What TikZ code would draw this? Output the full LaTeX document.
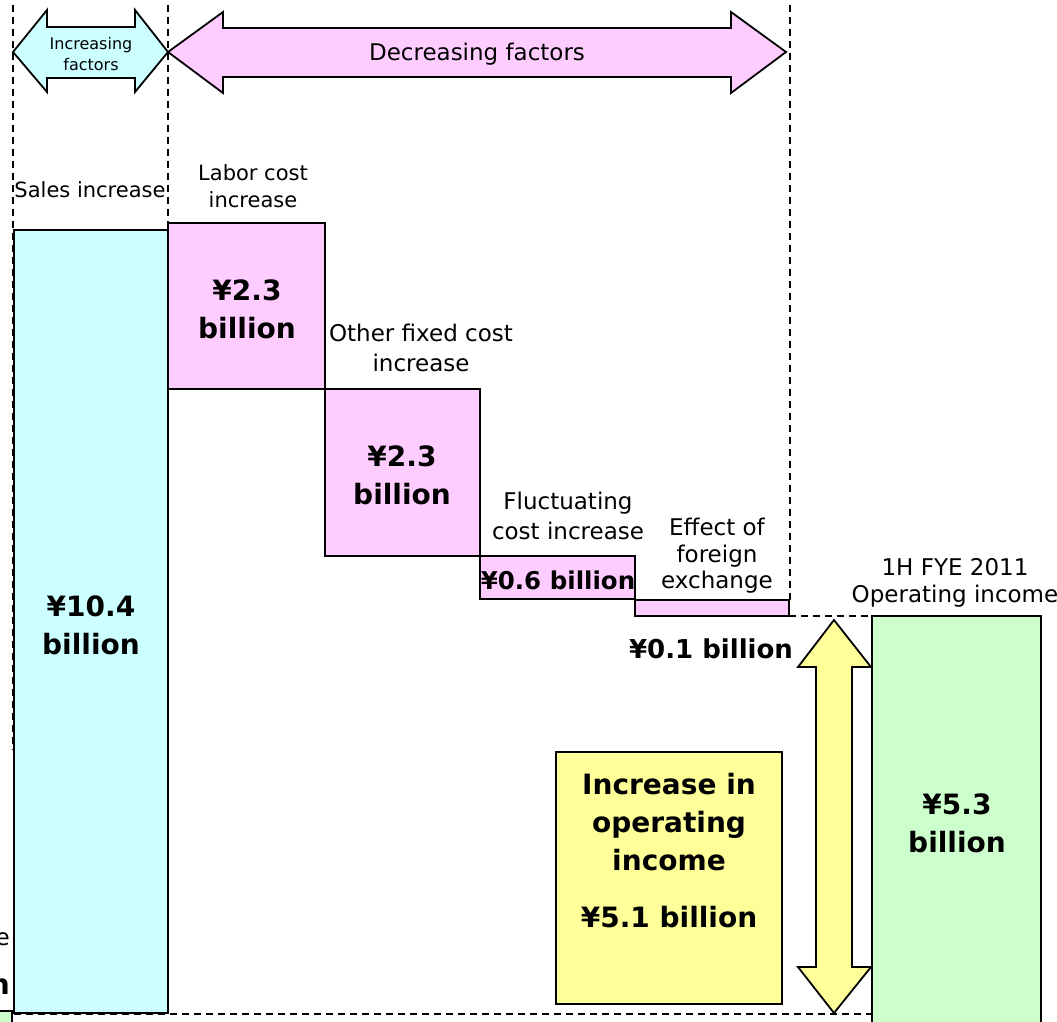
\documentclass[tikz,border=0pt]{standalone}
\usepackage{fontspec}
\setmainfont{DejaVu Sans}
\definecolor{cyanf}{HTML}{CCFFFF}
\definecolor{pinkf}{HTML}{FFCCFF}
\definecolor{greenf}{HTML}{CCFFCC}
\definecolor{yellowf}{HTML}{FFFF99}
\begin{document}
\begin{tikzpicture}[x=1pt,y=-1pt,
  bar/.style={draw=black,line width=2pt},
  guide/.style={draw=black,line width=1.8pt,dash pattern=on 7pt off 5pt},
  lbl/.style={align=center,inner sep=0pt,font=\fontsize{23}{30}\selectfont},
  lbls/.style={align=center,inner sep=0pt,font=\fontsize{21}{27}\selectfont},
  big/.style={align=center,inner sep=0pt,font=\bfseries\fontsize{28}{38}\selectfont},
  shp/.style={draw=black,line width=1.8pt,line join=miter}]
\useasboundingbox (0,0) rectangle (1057,1021);
\clip (0,0) rectangle (1057,1021);
\fill[white] (0,0) rectangle (1057,1021);

% cut-off bar at left
\draw[bar,fill=greenf] (-60,1011) rectangle (12,1040);
\node[lbl,anchor=east] (prevlbl) at (10,937) {income};
\node[big,anchor=east] (prevval) at (10,984) {billion};

% guide lines
\draw[guide] (13,5) -- (13,750);
\draw[guide] (168,5) -- (168,223);
\draw[guide] (790,5) -- (790,600);

% bars
\draw[bar,fill=cyanf] (14,230) rectangle (168,1013);
\draw[bar,fill=pinkf] (168,223) rectangle (325,389);
\draw[bar,fill=pinkf] (325,389) rectangle (480,556);
\draw[bar,fill=pinkf] (480,556) rectangle (635,599);
\draw[bar,fill=pinkf] (635,600) rectangle (789,616);
\draw[bar,fill=greenf] (872,616) rectangle (1041,1040);
\draw[bar,fill=yellowf] (556,752) rectangle (782,1004);

\draw[guide] (789,616) -- (872,616);
\draw[guide] (14,1014) -- (872,1014);

% top arrows
\draw[shp,fill=cyanf] (13,52) -- (47,10) -- (47,27) -- (135,27) -- (135,10) -- (168,52)
  -- (135,92) -- (135,78) -- (47,78) -- (47,92) -- cycle;
\draw[shp,fill=pinkf] (168,52) -- (223,12) -- (223,28) -- (731,28) -- (731,12) -- (786,52)
  -- (731,93) -- (731,77) -- (223,77) -- (223,93) -- cycle;
\node[align=center,inner sep=0pt,font=\fontsize{16}{21}\selectfont] (incf) at (91,54) {Increasing\\factors};
\node[lbl] (decf) at (477,54) {Decreasing factors};

% yellow double arrow
\draw[shp,fill=yellowf] (834,620) -- (871,667) -- (852,667) -- (852,967) -- (871,967)
  -- (834,1013) -- (798,967) -- (816,967) -- (816,667) -- (798,667) -- cycle;

% labels
\node[lbls] (sales) at (90,190) {Sales increase};
\node[lbls] (labor) at (253,186) {Labor cost\\increase};
\node[big] (v1) at (247,309) {¥2.3\\billion};
\node[lbl] (other) at (421,348) {Other fixed cost\\increase};
\node[big] (v2) at (402,475) {¥2.3\\billion};
\node[lbl] (fluct) at (568,516) {Fluctuating\\cost increase};
\node[big,font=\bfseries\fontsize{24.5}{30}\selectfont] (v3) at (558,580) {¥0.6 billion};
\node[align=center,inner sep=0pt,font=\fontsize{23}{26.5}\selectfont] (fx) at (717,556) {Effect of\\foreign\\exchange};
\node[big,font=\bfseries\fontsize{26}{30}\selectfont] (v4) at (711,649) {¥0.1 billion};
\node[big] (v0) at (91,625) {¥10.4\\billion};
\node[align=center,inner sep=0pt,font=\fontsize{23}{27}\selectfont] (fye) at (955,583) {1H FYE 2011\\Operating income};
\node[big] (v5) at (957,823) {¥5.3\\billion};
\node[big] (inc) at (669,822) {Increase in\\operating\\income};
\node[big] (v6) at (669,917) {¥5.1 billion};
\end{tikzpicture}
\end{document}
